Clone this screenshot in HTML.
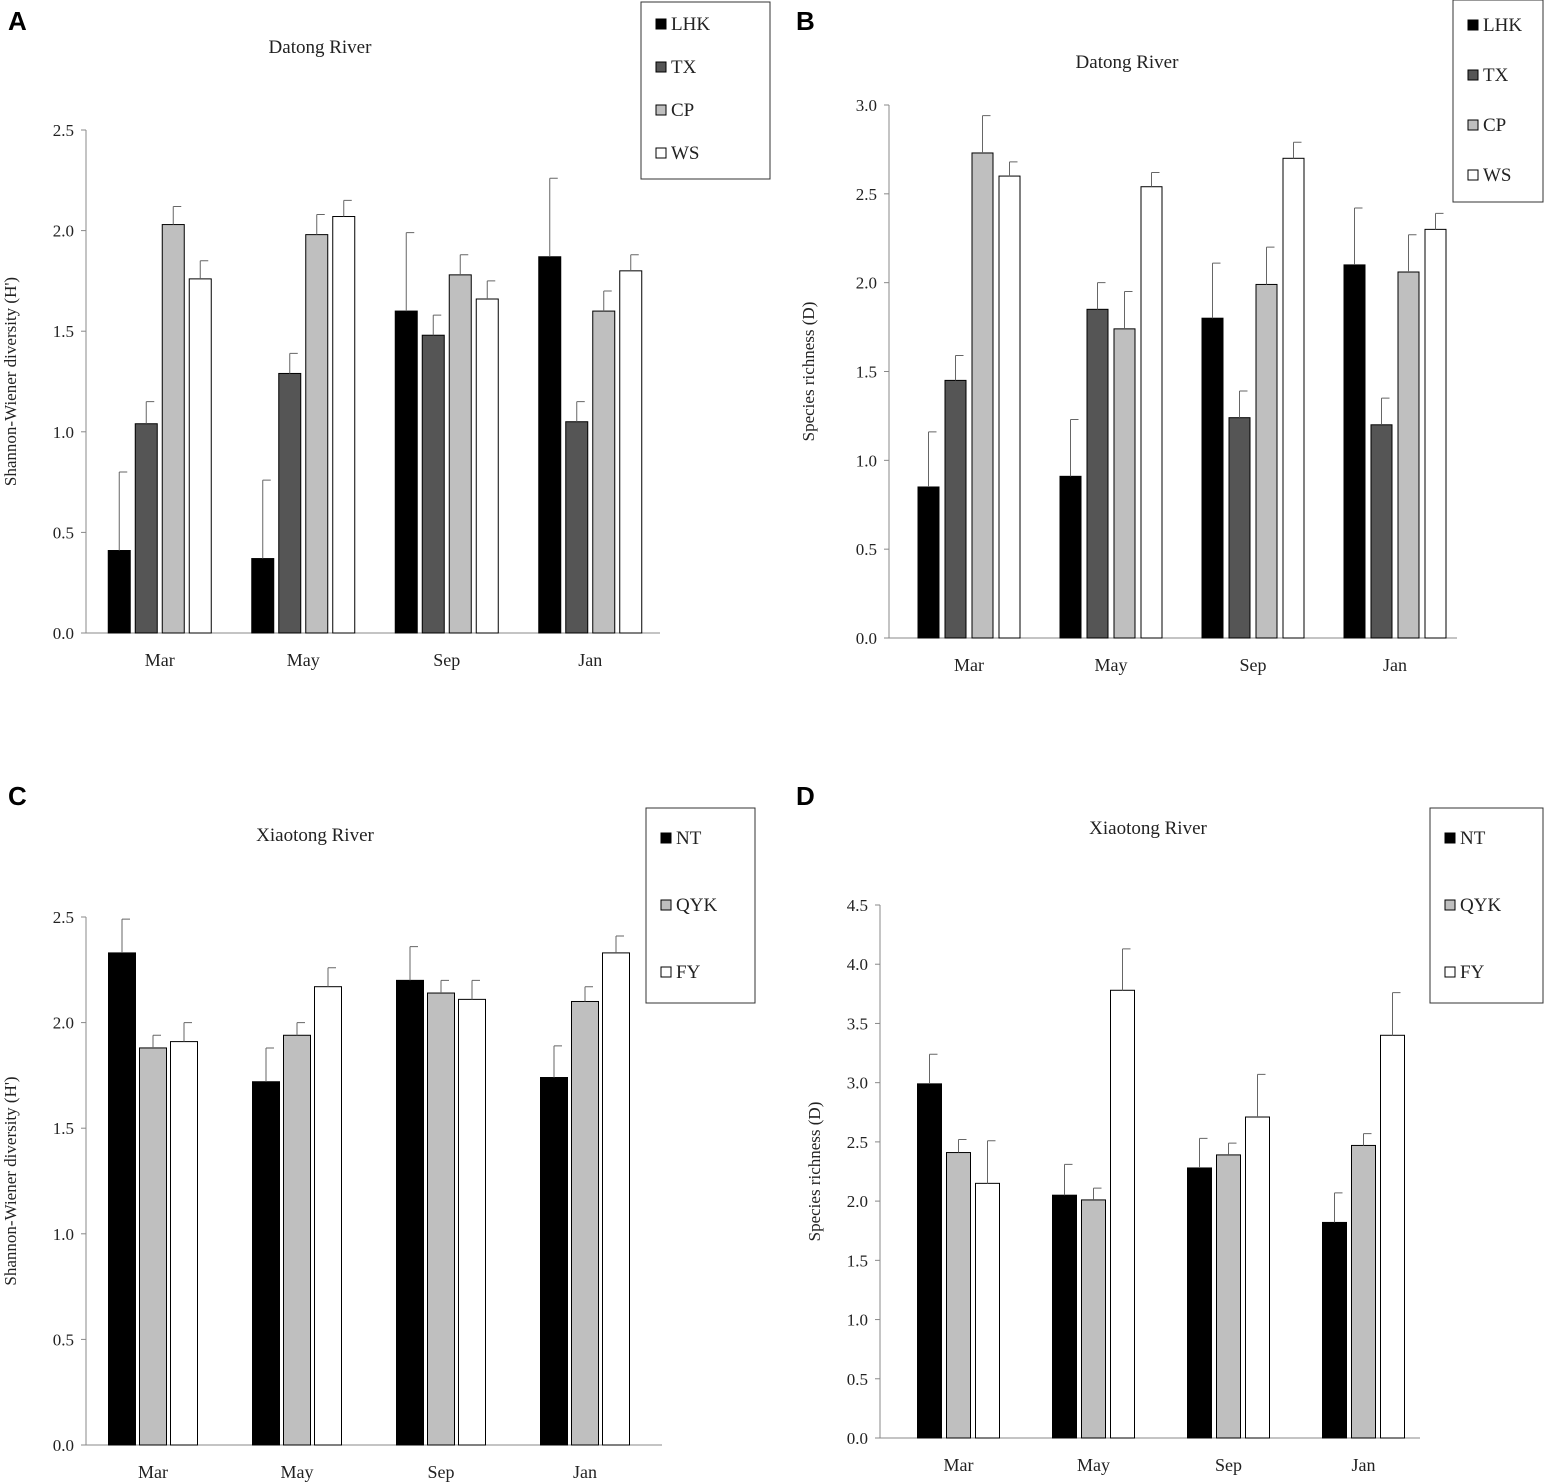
<!DOCTYPE html>
<html><head><meta charset="utf-8">
<style>
body{margin:0;background:#fff;font-family:"Liberation Serif",serif;}
svg{display:block}
text{font-family:"Liberation Serif",serif;fill:#222}
.pl{font-family:"Liberation Sans",sans-serif;font-weight:bold;font-size:26px;fill:#000}
</style></head><body>
<svg id="s" width="1545" height="1484" xmlns="http://www.w3.org/2000/svg"></svg>
<script>
const months = ["Mar","May","Sep","Jan"];
const seriesA = ["LHK","TX","CP","WS"];
const valA = [[0.41,0.37,1.60,1.87],[1.04,1.29,1.48,1.05],[2.03,1.98,1.78,1.60],[1.76,2.07,1.66,1.80]];
const errA = [[0.39,0.39,0.39,0.39],[0.11,0.10,0.10,0.10],[0.09,0.10,0.10,0.10],[0.09,0.08,0.09,0.08]];
const valB = [[0.85,0.91,1.80,2.10],[1.45,1.85,1.24,1.20],[2.73,1.74,1.99,2.06],[2.60,2.54,2.70,2.30]];
const errB = [[0.31,0.32,0.31,0.32],[0.14,0.15,0.15,0.15],[0.21,0.21,0.21,0.21],[0.08,0.08,0.09,0.09]];
const seriesC = ["NT","QYK","FY"];
const valC = [[2.33,1.72,2.20,1.74],[1.88,1.94,2.14,2.10],[1.91,2.17,2.11,2.33]];
const errC = [[0.16,0.16,0.16,0.15],[0.06,0.06,0.06,0.07],[0.09,0.09,0.09,0.08]];
const valD = [[2.99,2.05,2.28,1.82],[2.41,2.01,2.39,2.47],[2.15,3.78,2.71,3.40]];
const errD = [[0.25,0.26,0.25,0.25],[0.11,0.10,0.10,0.10],[0.36,0.35,0.36,0.36]];
const ticksA = ["0.0","0.5","1.0","1.5","2.0","2.5"];
const ticksB = ["0.0","0.5","1.0","1.5","2.0","2.5","3.0"];
const ticksD = ["0.0","0.5","1.0","1.5","2.0","2.5","3.0","3.5","4.0","4.5"];
const colsA = ["#000","#555","#bfbfbf","#fff"];
const colsC = ["#000","#bfbfbf","#fff"];
const NS="http://www.w3.org/2000/svg";
const svg=document.getElementById('s');
function mk(t,a,p){const e=document.createElementNS(NS,t);for(const k in a)e.setAttribute(k,a[k]);(p||svg).appendChild(e);return e;}
function panel(o){
  const g=mk('g',{});
  
  
  const y=v=>o.y0-(v/o.ymax)*(o.y0-o.ytop);
  const gx=i=>o.x0+o.off+o.gw*(i+0.5);
  const ax=mk('line',{x1:o.x0,y1:o.ytop,x2:o.x0,y2:o.y0,stroke:'#888','stroke-width':1},g);
  
  const bx=mk('line',{x1:o.x0,y1:o.y0,x2:o.x0+o.gw*4,y2:o.y0,stroke:'#888','stroke-width':1},g);
  
  o.ticks.forEach((t,i)=>{const v=parseFloat(t);
    mk('line',{x1:o.x0-5,x2:o.x0,y1:y(v),y2:y(v),stroke:'#888'},g);
    const tx=mk('text',{x:o.x0-12,y:y(v)+6,'text-anchor':'end','font-size':17},g);tx.textContent=t;
    });
  months.forEach((m,i)=>{const tx=mk('text',{x:gx(i),y:o.y0+33,'text-anchor':'middle','font-size':18},g);tx.textContent=m;
    });
  const n=o.series.length, tot=n*o.bw+(n-1)*o.gap;
  o.series.forEach((s,si)=>{months.forEach((m,mi)=>{
    const x=gx(mi)-tot/2+si*(o.bw+o.gap), v=o.vals[si][mi], e=o.errs[si][mi];
    const r=mk('rect',{x:x,y:y(v),width:o.bw,height:o.y0-y(v),fill:o.cols[si],stroke:'#000','stroke-width':1},g);
    
    
    const cx=x+o.bw/2;
    const el=mk('path',{d:`M${cx},${y(v)}V${y(v+e)}M${cx},${y(v+e)}H${cx+8}`,stroke:'#666','stroke-width':1,fill:'none'},g);
    
    
  });});
  const ti=mk('text',{x:o.tx,y:o.ty,'text-anchor':'middle','font-size':19},g);ti.textContent=o.title;
  
  const yl=mk('text',{x:0,y:0,'text-anchor':'middle','font-size':17,transform:`translate(${o.ylx},${(o.ytop+o.y0)/2}) rotate(-90)`},g);yl.textContent=o.ylab;
  
  const pl=mk('text',{x:o.px,y:o.py,class:'pl'},g);pl.textContent=o.id;
  
  const lg=mk('g',{},g);
  
  mk('rect',{x:o.lx,y:o.ly,width:o.lw,height:o.lh,fill:'#fff',stroke:'#333','stroke-width':1},lg);
  o.series.forEach((s,si)=>{const yy=o.ly+o.lfirst+si*o.lstep;
    mk('rect',{x:o.lx+15,y:yy-6,width:10,height:10,fill:o.cols[si],stroke:'#000','stroke-width':1},lg);
    const t=mk('text',{x:o.lx+30,y:yy+5,'font-size':19},lg);t.textContent=s;
    });
}
panel({id:'A',x0:86,off:2,y0:633,ytop:130,ymax:2.5,gw:143.5,bw:22,gap:5,series:seriesA,vals:valA,errs:errA,cols:colsA,ticks:ticksA,title:'Datong River',tx:320,ty:53,ylab:"Shannon-Wiener diversity (H')",ylx:16,px:8,py:30,lx:641,ly:2,lw:129,lh:177,lfirst:23,lstep:43});
panel({id:'B',x0:889,off:9,y0:638,ytop:105,ymax:3.0,gw:142,bw:21,gap:6,series:seriesA,vals:valB,errs:errB,cols:colsA,ticks:ticksB,title:'Datong River',tx:1127,ty:68,ylab:"Species  richness (D)",ylx:814,px:796,py:30,lx:1453,ly:0,lw:90,lh:202,lfirst:26,lstep:50});
panel({id:'C',x0:86,off:-5,y0:1445,ytop:917,ymax:2.5,gw:144,bw:27,gap:4,series:seriesC,vals:valC,errs:errC,cols:colsC,ticks:ticksA,title:'Xiaotong River',tx:315,ty:841,ylab:"Shannon-Wiener diversity (H')",ylx:16,px:8,py:805,lx:646,ly:808,lw:109,lh:195,lfirst:31,lstep:67});
panel({id:'D',x0:880,off:11,y0:1438,ytop:905,ymax:4.5,gw:135,bw:24,gap:5,series:seriesC,vals:valD,errs:errD,cols:colsC,ticks:ticksD,title:'Xiaotong River',tx:1148,ty:834,ylab:"Species  richness (D)",ylx:820,px:796,py:805,lx:1430,ly:808,lw:113,lh:195,lfirst:31,lstep:67});
</script>
</body></html>
